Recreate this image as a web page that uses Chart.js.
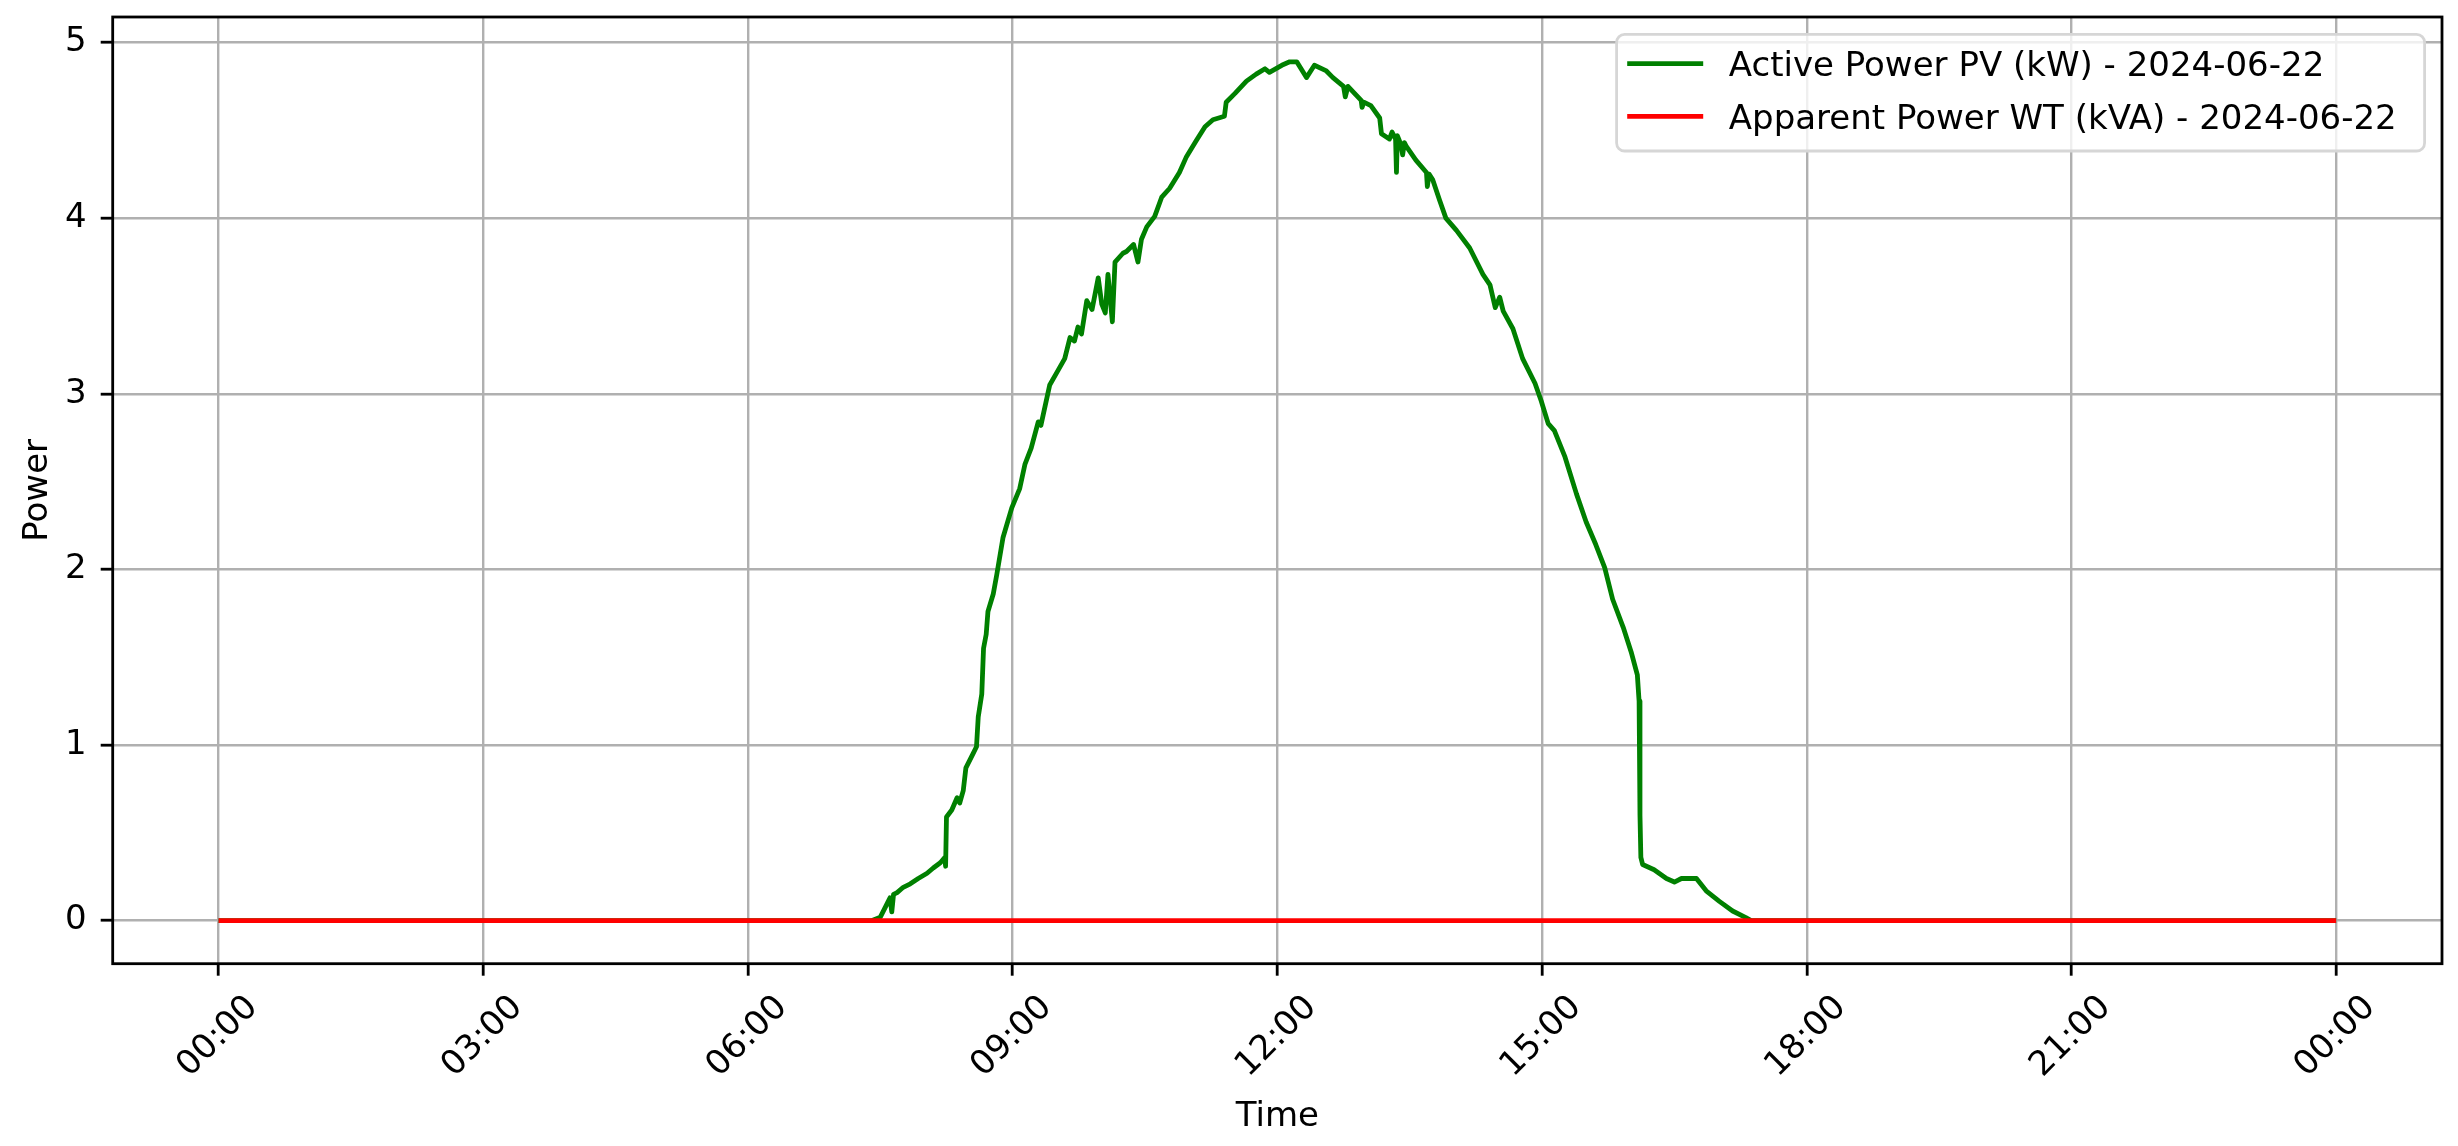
<!DOCTYPE html>
<html>
<head>
<meta charset="utf-8">
<title>Power 2024-06-22</title>
<script src="https://cdn.jsdelivr.net/npm/chart.js@4"></script>
<style>
  html, body { margin: 0; padding: 0; background: #fff; }
  canvas { display: block; }
</style>
</head>
<body>
<canvas id="powerChart" width="2458" height="1146"></canvas>
<script>
// Datos (hora decimal del día -> potencia)
const dateLabel = '2024-06-22';
const pvLabel = 'Active Power PV (kW) - ' + dateLabel;
const wtLabel = 'Apparent Power WT (kVA) - ' + dateLabel;

const pvHour = [
  0, 7.40, 7.50, 7.58, 7.61, 7.63, 7.65, 7.69, 7.76, 7.84, 7.93, 8.03, 8.10, 8.18, 8.23, 8.24,
  8.25, 8.31, 8.37, 8.40, 8.44, 8.47, 8.55, 8.59, 8.61, 8.65, 8.67, 8.70, 8.72, 8.78, 8.82, 8.89,
  8.99, 9.08, 9.14, 9.21, 9.29, 9.32, 9.42, 9.50, 9.59, 9.65, 9.70, 9.74, 9.78, 9.84, 9.90, 9.97,
  10.01, 10.05, 10.08, 10.13, 10.16, 10.25, 10.29, 10.37, 10.42, 10.46, 10.52, 10.61, 10.69, 10.78,
  10.89, 10.97, 11.08, 11.18, 11.27, 11.40, 11.42, 11.52, 11.65, 11.76, 11.86, 11.91, 12.05, 12.14,
  12.22, 12.33, 12.42, 12.55, 12.63, 12.75, 12.77, 12.80, 12.95, 12.96, 12.98, 13.06, 13.16, 13.18,
  13.27, 13.30, 13.34, 13.35, 13.36, 13.40, 13.42, 13.44, 13.46, 13.57, 13.69, 13.70, 13.72, 13.76,
  13.84, 13.91, 14.03, 14.18, 14.33, 14.41, 14.47, 14.52, 14.56, 14.67, 14.78, 14.92, 14.99, 15.07,
  15.14, 15.26, 15.39, 15.50, 15.61, 15.71, 15.80, 15.92, 16.01, 16.08, 16.10, 16.11, 16.12, 16.14,
  16.27, 16.41, 16.50, 16.58, 16.75, 16.86, 17.01, 17.16, 17.31, 17.37, 24
];
const pvPower = [
  0, 0, 0.02, 0.10, 0.13, 0.05, 0.15, 0.16, 0.19, 0.21, 0.24, 0.27, 0.30, 0.33, 0.36, 0.31,
  0.59, 0.63, 0.70, 0.67, 0.74, 0.87, 0.95, 0.99, 1.16, 1.29, 1.55, 1.63, 1.76, 1.86, 1.97, 2.18,
  2.35, 2.46, 2.60, 2.69, 2.84, 2.82, 3.05, 3.12, 3.20, 3.32, 3.30, 3.38, 3.34, 3.53, 3.48, 3.66,
  3.51, 3.46, 3.68, 3.41, 3.75, 3.80, 3.81, 3.85, 3.75, 3.88, 3.95, 4.01, 4.12, 4.17,
  4.26, 4.35, 4.44, 4.52, 4.56, 4.58, 4.66, 4.71, 4.78, 4.82, 4.85, 4.83, 4.87, 4.89,
  4.89, 4.80, 4.87, 4.84, 4.80, 4.75, 4.69, 4.75, 4.67, 4.63, 4.66, 4.64, 4.57, 4.48,
  4.45, 4.49, 4.45, 4.26, 4.47, 4.42, 4.36, 4.43, 4.41, 4.33, 4.26, 4.18, 4.25, 4.22,
  4.10, 4.00, 3.93, 3.83, 3.68, 3.62, 3.49, 3.55, 3.47, 3.37, 3.20, 3.06, 2.96, 2.83,
  2.79, 2.64, 2.43, 2.27, 2.14, 2.01, 1.83, 1.67, 1.53, 1.40, 1.25, 0.60, 0.36, 0.32,
  0.29, 0.24, 0.22, 0.24, 0.24, 0.17, 0.11, 0.055, 0.017, 0, 0
];

// La turbina no produce nada en todo el día
const wtHour = [0, 24];
const wtPower = [0, 0];

// Marcas de los ejes
const tickHours = [0, 3, 6, 9, 12, 15, 18, 21, 24];
const tickLabels = ['00:00', '03:00', '06:00', '09:00', '12:00', '15:00', '18:00', '21:00', '00:00'];
const powerTicks = [0, 1, 2, 3, 4, 5];

Chart.defaults.font.family = "'DejaVu Sans', sans-serif";
Chart.defaults.font.size = 34;
Chart.defaults.color = '#000';

const GRID = '#b0b0b0';
const LW = 4.8;

// Marco negro alrededor del área del gráfico (como los spines de matplotlib)
const framePlugin = {
  id: 'frame',
  afterDatasetsDraw(chart) {
    const { ctx, chartArea: a } = chart;
    ctx.save();
    ctx.strokeStyle = '#000';
    ctx.lineWidth = 2.8;
    ctx.strokeRect(a.left, a.top, a.right - a.left, a.bottom - a.top);
    ctx.restore();
  }
};

// Leyenda dentro del área, arriba a la derecha
const legendPlugin = {
  id: 'insideLegend',
  afterDraw(chart) {
    const { ctx, chartArea: a } = chart;
    const boxR = a.right - 17.4, boxT = a.top + 17.3;
    const boxL = boxR - 808, boxB = boxT + 116.7;
    ctx.save();
    ctx.beginPath();
    ctx.roundRect(boxL, boxT, boxR - boxL, boxB - boxT, 8);
    ctx.fillStyle = 'rgba(255,255,255,0.8)';
    ctx.fill();
    ctx.strokeStyle = '#d6d6d6';
    ctx.lineWidth = 2.8;
    ctx.stroke();

    chart.data.datasets.forEach((ds, i) => {
      const y = boxT + 29.3 + i * 52.7;
      ctx.beginPath();
      ctx.moveTo(boxL + 10.6, y);
      ctx.lineTo(boxL + 86.6, y);
      ctx.strokeStyle = ds.borderColor;
      ctx.lineWidth = LW;
      ctx.stroke();
      ctx.fillStyle = '#000';
      ctx.font = "34px 'DejaVu Sans'";
      ctx.textAlign = 'left';
      ctx.textBaseline = 'alphabetic';
      ctx.fillText(ds.label, boxL + 112.2, y + 12.5);
    });
    ctx.restore();
  }
};

const ctx = document.getElementById('powerChart').getContext('2d');
const chart = new Chart(ctx, {
  type: 'line',
  data: {
    datasets: [
      {
        label: pvLabel,
        data: pvHour.map((h, i) => ({ x: h, y: pvPower[i] })),
        borderColor: '#008000',
        borderWidth: LW,
        borderJoinStyle: 'round',
        pointRadius: 0,
        tension: 0,
        order: 1
      },
      {
        label: wtLabel,
        data: wtHour.map((h, i) => ({ x: h, y: wtPower[i] })),
        borderColor: '#ff0000',
        borderWidth: LW,
        pointRadius: 0,
        tension: 0,
        order: 0
      }
    ]
  },
  options: {
    responsive: false,
    animation: false,
    devicePixelRatio: 1,
    layout: { padding: { left: 0, top: 17, right: 16, bottom: 0 } },
    scales: {
      x: {
        type: 'linear',
        min: -1.2,
        max: 25.2,
        afterBuildTicks: (axis) => { axis.ticks = tickHours.map(v => ({ value: v })); },
        afterFit: (s) => { s.height = 182.3; s.paddingLeft = 0; s.paddingRight = 0; },
        grid: { color: GRID, lineWidth: 2.4, tickColor: '#000', tickLength: 12, tickWidth: 2.8 },
        border: { display: false },
        ticks: {
          minRotation: 45,
          maxRotation: 45,
          padding: 12,
          labelOffset: 34,
          autoSkip: false,
          callback: (v) => tickLabels[tickHours.indexOf(v)]
        },
        title: { display: true, text: 'Time', padding: { top: 0, bottom: 8 } }
      },
      y: {
        min: -0.245,
        max: 5.145,
        afterBuildTicks: (axis) => { axis.ticks = powerTicks.map(v => ({ value: v })); },
        afterFit: (s) => { s.width = 112.7; s.paddingTop = 0; s.paddingBottom = 0; },
        grid: { color: GRID, lineWidth: 2.4, tickColor: '#000', tickLength: 12, tickWidth: 2.8 },
        border: { display: false },
        ticks: { padding: 14, callback: (v) => String(v) },
        title: { display: true, text: 'Power', padding: { top: 18, bottom: 0 } }
      }
    },
    plugins: {
      legend: { display: false },
      tooltip: { enabled: false }
    }
  },
  plugins: [framePlugin, legendPlugin]
});
</script>
</body>
</html>
